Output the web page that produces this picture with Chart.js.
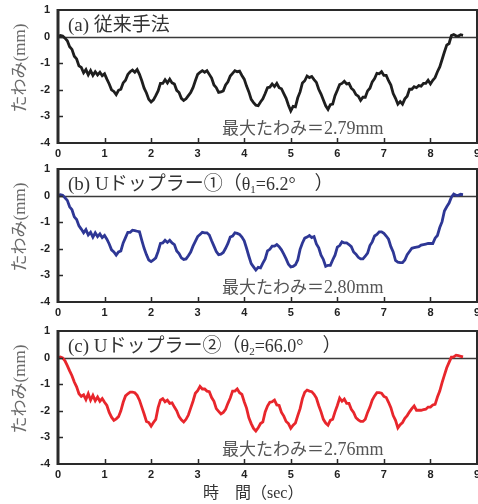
<!DOCTYPE html>
<html>
<head>
<meta charset="utf-8">
<script src="https://cdn.jsdelivr.net/npm/chart.js@4.4.1/dist/chart.umd.min.js"></script>
<style>
  html, body { margin: 0; padding: 0; background: #fff; overflow: hidden; width: 478px; height: 504px; }
  .panel { position: absolute; left: 0; }
</style>
</head>
<body>
<canvas id="chart-a" class="panel" width="490" height="160" style="top:0px"></canvas>
<canvas id="chart-b" class="panel" width="490" height="160" style="top:159px"></canvas>
<canvas id="chart-c" class="panel" width="490" height="183" style="top:321px"></canvas>
<script>
// deflection records, sampled every 0.05 sec (mm)
const SAMPLE_DT = 0.05;

const deflectionConv = [
  0.00, 0.04, 0.02, -0.06, -0.16, -0.38, -0.48, -0.74, -0.84, -1.10,
  -1.16, -1.36, -1.24, -1.44, -1.28, -1.46, -1.32, -1.44, -1.34, -1.47,
  -1.40, -1.60, -1.78, -2.00, -2.06, -2.18, -2.02, -1.98, -1.74, -1.64,
  -1.42, -1.32, -1.26, -1.34, -1.24, -1.42, -1.66, -1.94, -2.12, -2.36,
  -2.46, -2.38, -2.22, -2.04, -1.76, -1.76, -1.62, -1.74, -1.60, -1.74,
  -1.78, -2.02, -2.10, -2.32, -2.40, -2.34, -2.22, -2.10, -1.92, -1.66,
  -1.42, -1.34, -1.28, -1.34, -1.28, -1.42, -1.56, -1.82, -1.92, -2.10,
  -2.08, -2.04, -1.82, -1.70, -1.48, -1.38, -1.28, -1.32, -1.30, -1.46,
  -1.60, -1.86, -2.08, -2.36, -2.48, -2.58, -2.60, -2.46, -2.34, -2.14,
  -1.92, -1.90, -1.78, -1.88, -1.76, -1.92, -1.96, -2.14, -2.32, -2.58,
  -2.79, -2.62, -2.64, -2.30, -2.08, -1.74, -1.66, -1.48, -1.54, -1.50,
  -1.62, -1.72, -1.98, -2.16, -2.38, -2.60, -2.74, -2.56, -2.54, -2.22,
  -2.02, -1.80, -1.76, -1.68, -1.78, -1.76, -1.94, -2.02, -2.18, -2.24,
  -2.40, -2.28, -2.28, -2.04, -1.94, -1.70, -1.58, -1.38, -1.40, -1.32,
  -1.46, -1.46, -1.66, -1.82, -2.14, -2.32, -2.54, -2.44, -2.54, -2.34,
  -2.24, -1.98, -1.98, -1.88, -1.92, -1.84, -1.86, -1.76, -1.76, -1.64,
  -1.78, -1.64, -1.54, -1.32, -1.14, -0.86, -0.58, -0.32, -0.26, 0.04,
  0.08, 0.03, 0.02, 0.07, 0.05
];

const deflectionU1 = [
  0.00, 0.03, 0.01, -0.08, -0.18, -0.42, -0.53, -0.80, -0.90, -1.14,
  -1.26, -1.40, -1.28, -1.48, -1.38, -1.56, -1.40, -1.54, -1.44, -1.58,
  -1.50, -1.64, -1.82, -2.04, -2.12, -2.24, -2.12, -2.08, -1.78, -1.58,
  -1.38, -1.38, -1.30, -1.32, -1.34, -1.36, -1.68, -1.98, -2.22, -2.42,
  -2.48, -2.42, -2.34, -2.10, -1.80, -1.78, -1.68, -1.76, -1.68, -1.78,
  -1.84, -2.08, -2.18, -2.34, -2.40, -2.38, -2.26, -2.12, -1.90, -1.72,
  -1.54, -1.46, -1.38, -1.40, -1.40, -1.48, -1.70, -1.90, -2.10, -2.22,
  -2.20, -2.14, -1.98, -1.80, -1.56, -1.52, -1.40, -1.42, -1.46, -1.56,
  -1.70, -1.98, -2.28, -2.56, -2.68, -2.80, -2.70, -2.72, -2.54, -2.38,
  -2.08, -2.02, -1.90, -1.90, -1.84, -1.92, -2.04, -2.20, -2.38, -2.58,
  -2.68, -2.66, -2.60, -2.42, -2.02, -1.78, -1.60, -1.56, -1.50, -1.58,
  -1.54, -1.82, -1.96, -2.24, -2.40, -2.66, -2.62, -2.62, -2.42, -2.24,
  -1.94, -1.88, -1.74, -1.78, -1.78, -1.84, -1.92, -2.12, -2.20, -2.32,
  -2.38, -2.38, -2.28, -2.16, -1.88, -1.74, -1.52, -1.46, -1.36, -1.36,
  -1.42, -1.52, -1.64, -1.92, -2.12, -2.44, -2.50, -2.52, -2.52, -2.42,
  -2.22, -2.10, -1.98, -1.96, -1.94, -1.92, -1.86, -1.84, -1.82, -1.80,
  -1.80, -1.80, -1.60, -1.50, -1.20, -0.98, -0.58, -0.42, -0.28, -0.06,
  0.06, 0.01, 0.01, 0.05, 0.04
];

const deflectionU2 = [
  0.00, 0.02, -0.01, -0.12, -0.30, -0.50, -0.68, -0.92, -1.10, -1.36,
  -1.46, -1.40, -1.58, -1.36, -1.60, -1.42, -1.62, -1.48, -1.64, -1.54,
  -1.68, -1.80, -2.06, -2.24, -2.36, -2.30, -2.22, -2.00, -1.68, -1.44,
  -1.36, -1.30, -1.30, -1.32, -1.42, -1.60, -1.86, -2.12, -2.40, -2.44,
  -2.58, -2.44, -2.32, -1.88, -1.60, -1.54, -1.66, -1.60, -1.72, -1.70,
  -1.86, -2.00, -2.22, -2.34, -2.42, -2.32, -2.16, -1.90, -1.64, -1.34,
  -1.24, -1.08, -1.18, -1.18, -1.26, -1.28, -1.50, -1.64, -1.92, -2.02,
  -2.12, -2.06, -1.94, -1.72, -1.52, -1.26, -1.26, -1.18, -1.32, -1.38,
  -1.66, -1.90, -2.26, -2.48, -2.66, -2.76, -2.64, -2.48, -2.42, -2.04,
  -1.82, -1.68, -1.66, -1.60, -1.78, -1.80, -2.06, -2.20, -2.40, -2.48,
  -2.66, -2.54, -2.46, -2.18, -1.92, -1.54, -1.30, -1.22, -1.26, -1.28,
  -1.38, -1.52, -1.80, -2.04, -2.32, -2.46, -2.54, -2.36, -2.32, -2.04,
  -1.80, -1.52, -1.64, -1.56, -1.72, -1.72, -1.94, -2.06, -2.26, -2.34,
  -2.40, -2.40, -2.32, -2.06, -1.86, -1.60, -1.44, -1.32, -1.32, -1.34,
  -1.46, -1.50, -1.68, -1.88, -2.18, -2.36, -2.64, -2.52, -2.44, -2.28,
  -2.18, -2.04, -1.92, -1.82, -1.98, -1.98, -1.98, -1.96, -1.94, -1.86,
  -1.86, -1.78, -1.76, -1.48, -1.26, -0.94, -0.66, -0.38, -0.18, 0.02,
  0.03, 0.09, 0.07, 0.05, 0.03
];

const maxDeflection = ['2.79', '2.80', '2.76'];
const X_MIN = 0, X_MAX = 9;
const Y_MIN = -4, Y_MAX = 1;

const SERIF = '"Liberation Serif", "DejaVu Serif", serif';
const CJK = '"Noto Sans CJK JP", "Noto Sans CJK SC", sans-serif';
const TICK_FONT = { family: '"Liberation Sans", Arial, sans-serif', size: 11, weight: 'bold' };

const PLOT_TOP = 10;
const PLOT_BOTTOM = 143;
const PLOT_LEFT = 58;
const PLOT_RIGHT = 477;

// draw a row of text pieces with mixed fonts, left to right
function drawRuns(ctx, x, y, runs, color) {
  ctx.save();
  ctx.fillStyle = color;
  ctx.textBaseline = 'alphabetic';
  ctx.textAlign = 'left';
  let cx = x;
  for (const r of runs) {
    ctx.font = r.font;
    ctx.fillText(r.text, cx, y + (r.dy || 0));
    cx += ctx.measureText(r.text).width;
  }
  ctx.restore();
  return cx;
}

function runsWidth(ctx, runs) {
  ctx.save();
  let w = 0;
  for (const r of runs) { ctx.font = r.font; w += ctx.measureText(r.text).width; }
  ctx.restore();
  return w;
}

function makePanel(canvasId, values, color, titleRuns, maxText, withXTitle) {
  const canvas = document.getElementById(canvasId);
  const H = canvas.height;
  const points = values.map((v, i) => ({ x: +(i * SAMPLE_DT).toFixed(2), y: v }));

  const framePlugin = {
    id: 'frame',
    beforeDatasetsDraw(chart) {
      const { ctx, chartArea: a, scales: { y } } = chart;
      const y0 = Math.round(y.getPixelForValue(0)) + 0.5;
      ctx.save();
      ctx.strokeStyle = '#3a3a3a';
      ctx.lineWidth = 1.4;
      ctx.beginPath();
      ctx.moveTo(a.left, y0);
      ctx.lineTo(a.right, y0);
      ctx.stroke();
      ctx.restore();
    },
    afterDatasetsDraw(chart) {
      const { ctx, chartArea: a, scales: { x, y } } = chart;
      ctx.save();
      ctx.strokeStyle = '#2a2a2a';
      ctx.lineWidth = 2;
      ctx.strokeRect(a.left, a.top, a.right - a.left, a.bottom - a.top);
      ctx.lineWidth = 3;
      ctx.beginPath();
      ctx.moveTo(a.left, a.top - 1);
      ctx.lineTo(a.left, a.bottom + 1);
      ctx.stroke();
      // inward tick marks
      ctx.lineWidth = 1.5;
      ctx.beginPath();
      for (let t = X_MIN + 1; t < X_MAX; t++) {
        const px = Math.round(x.getPixelForValue(t)) + 0.5;
        ctx.moveTo(px, a.bottom);
        ctx.lineTo(px, a.bottom - 5);
      }
      for (let v = Y_MIN + 1; v < Y_MAX; v++) {
        const py = Math.round(y.getPixelForValue(v)) + 0.5;
        ctx.moveTo(a.left, py);
        ctx.lineTo(a.left + 5, py);
      }
      ctx.stroke();
      ctx.restore();

      // panel caption
      drawRuns(ctx, a.left + 10, a.top + 21, titleRuns, '#333');

      // maximum deflection note
      drawRuns(ctx, 222, a.top + 124, [
        { text: '最大たわみ＝', font: '17px ' + CJK },
        { text: maxText + 'mm', font: '18px ' + SERIF }
      ], '#555');

      // vertical axis title
      const yRuns = [
        { text: 'たわみ', font: '17px ' + CJK },
        { text: '(mm)', font: '17px ' + SERIF }
      ];
      const w = runsWidth(ctx, yRuns);
      ctx.save();
      ctx.translate(25, a.top + 58);
      ctx.rotate(-Math.PI / 2);
      drawRuns(ctx, -w / 2, 0, yRuns, '#6a6a6a');
      ctx.restore();

      if (withXTitle) {
        drawRuns(ctx, 203, a.bottom + 34, [
          { text: '時　間（', font: '16px ' + CJK },
          { text: 'sec', font: '16px ' + SERIF },
          { text: '）', font: '16px ' + CJK }
        ], '#333');
      }
    }
  };

  return new Chart(canvas, {
    type: 'line',
    data: {
      datasets: [{
        data: points,
        borderColor: color,
        borderWidth: 2.8,
        pointRadius: 0,
        tension: 0,
        fill: false
      }]
    },
    options: {
      responsive: false,
      animation: false,
      devicePixelRatio: 1,
      layout: { padding: { top: PLOT_TOP, right: canvas.width - PLOT_RIGHT, left: 0, bottom: 0 } },
      plugins: { legend: { display: false }, tooltip: { enabled: false } },
      scales: {
        x: {
          type: 'linear',
          min: X_MIN,
          max: X_MAX,
          grid: { display: false, drawTicks: false },
          border: { display: false },
          ticks: { stepSize: 1, color: '#222', font: TICK_FONT, padding: 4, maxRotation: 0 },
          afterFit(scale) {
            scale.height = H - PLOT_BOTTOM;
            scale.paddingLeft = 0;
            scale.paddingRight = 0;
          }
        },
        y: {
          min: Y_MIN,
          max: Y_MAX,
          grid: { display: false, drawTicks: false },
          border: { display: false },
          ticks: { stepSize: 1, color: '#222', font: TICK_FONT, padding: 8 },
          afterFit(scale) {
            scale.width = PLOT_LEFT;
            scale.paddingTop = 0;
            scale.paddingBottom = 0;
          }
        }
      }
    },
    plugins: [framePlugin]
  });
}

makePanel('chart-a', deflectionConv, '#1e1e1e', [
  { text: '(a) ', font: '19px ' + SERIF },
  { text: '従来手法', font: '19px ' + CJK }
], maxDeflection[0], false);

makePanel('chart-b', deflectionU1, '#2e3795', [
  { text: '(b) U', font: '19px ' + SERIF },
  { text: 'ドップラー①（', font: '19px ' + CJK },
  { text: 'θ', font: '18px ' + SERIF },
  { text: '1', font: '11px ' + SERIF, dy: 3 },
  { text: '=6.2°', font: '18px ' + SERIF },
  { text: '　）', font: '19px ' + CJK }
], maxDeflection[1], false);

makePanel('chart-c', deflectionU2, '#e8262c', [
  { text: '(c) U', font: '19px ' + SERIF },
  { text: 'ドップラー②（', font: '19px ' + CJK },
  { text: 'θ', font: '18px ' + SERIF },
  { text: '2', font: '11px ' + SERIF, dy: 3 },
  { text: '=66.0°', font: '18px ' + SERIF },
  { text: '　）', font: '19px ' + CJK }
], maxDeflection[2], true);
</script>
</body>
</html>
